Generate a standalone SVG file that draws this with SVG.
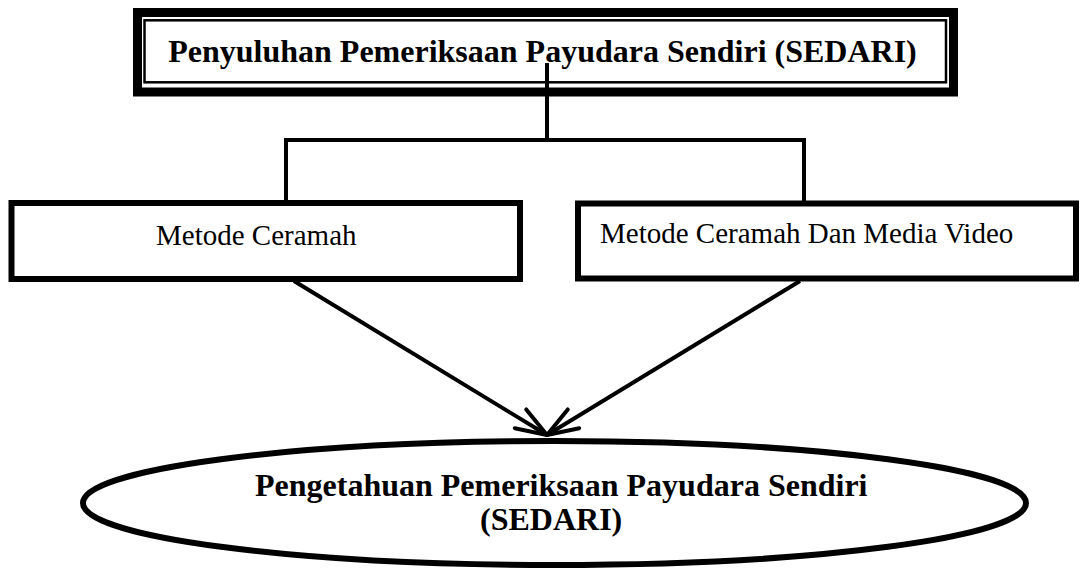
<svg xmlns="http://www.w3.org/2000/svg" width="1081" height="569" viewBox="0 0 1081 569">
  <style>
    .bold { font-family: "Liberation Serif", "Times New Roman", serif; font-weight: bold; font-size: 32px; fill: #000; }
    .reg { font-family: "Liberation Serif", "Times New Roman", serif; font-size: 29px; fill: #000; }
    .box { fill: #fff; stroke: #000; stroke-width: 6; }
    .conn { fill: none; stroke: #000; stroke-width: 4; }
    .arrowhead { fill: none; stroke: #000; stroke-width: 4; stroke-linecap: round; stroke-linejoin: round; }
  </style>
  <defs>
    <marker id="openArrow" markerUnits="userSpaceOnUse" markerWidth="80" markerHeight="80" viewBox="-40 -40 80 80" refX="0" refY="0" orient="auto" overflow="visible">
      <path class="arrowhead" d="M-31,-11 L0,0 L-31,11"/>
    </marker>
  </defs>
  <rect width="1081" height="569" fill="#fff"/>

  <g id="node-penyuluhan">
    <rect x="137.5" y="12.5" width="816" height="79.5" fill="#fff" stroke="#000" stroke-width="9"/>
    <rect x="144.5" y="20.3" width="801.5" height="62" fill="none" stroke="#000" stroke-width="2.5"/>
    <text class="bold" x="542.5" y="62" text-anchor="middle">Penyuluhan Pemeriksaan Payudara Sendiri (SEDARI)</text>
  </g>

  <g id="node-ceramah">
    <rect class="box" x="11.5" y="203" width="508.5" height="76"/>
    <text class="reg" x="156" y="245">Metode Ceramah</text>
  </g>

  <g id="node-ceramah-video">
    <rect class="box" x="578" y="203.5" width="498" height="75"/>
    <text class="reg" x="600" y="243">Metode Ceramah Dan Media Video</text>
  </g>

  <g id="node-pengetahuan">
    <ellipse cx="554.5" cy="503" rx="471.5" ry="62" fill="#fff" stroke="#000" stroke-width="6"/>
    <text class="bold" x="255" y="496">Pengetahuan Pemeriksaan Payudara Sendiri</text>
    <text class="bold" x="480" y="530">(SEDARI)</text>
  </g>

  <g id="connectors">
    <path class="conn" d="M547 63 V140"/>
    <path class="conn" d="M286 203 V140 H804 V203"/>
    <path class="conn" d="M294 281 L547 435" marker-end="url(#openArrow)"/>
    <path class="conn" d="M800 281 L547 435" marker-end="url(#openArrow)"/>
  </g>
</svg>
